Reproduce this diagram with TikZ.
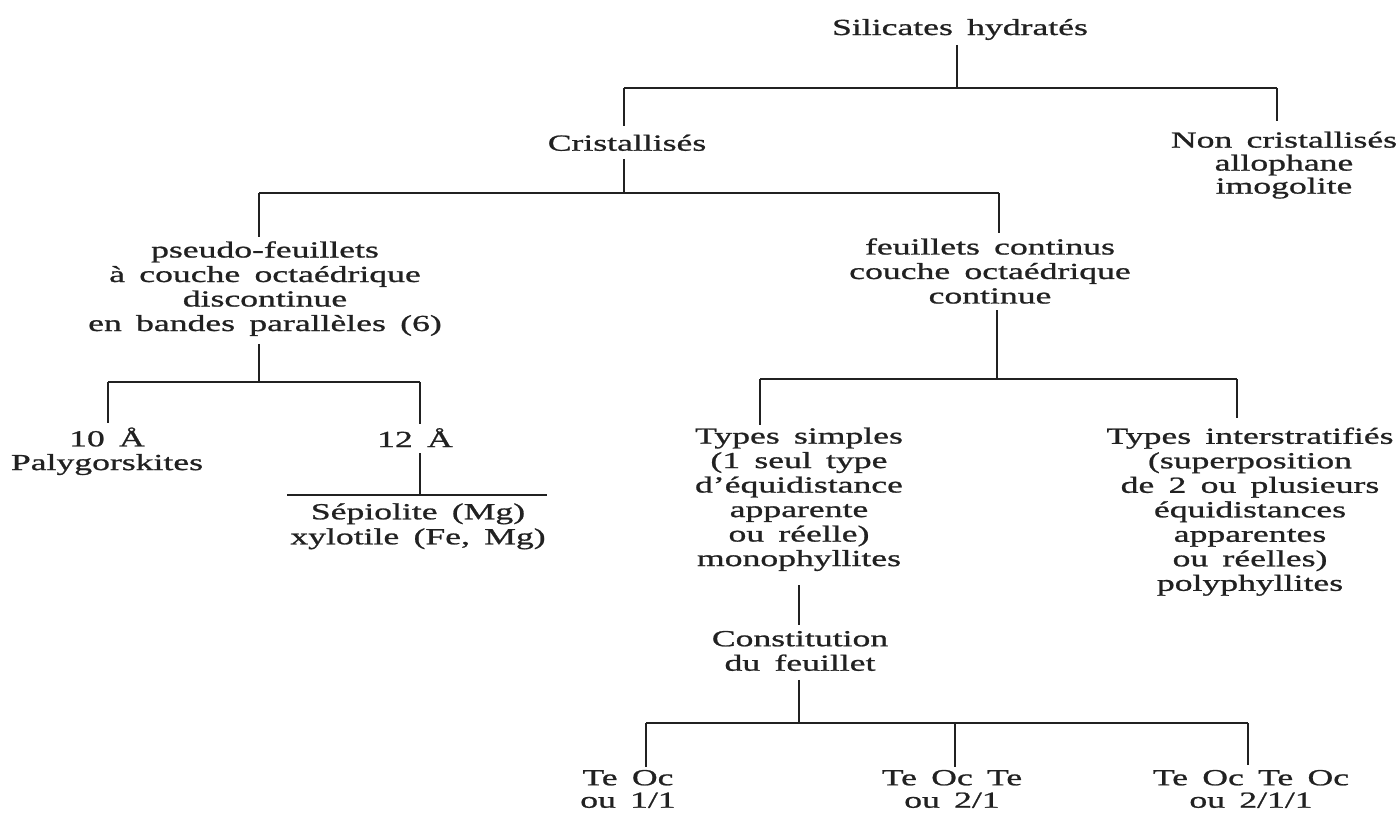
\documentclass[tikz,border=0pt]{standalone}
\usepackage{fontspec}
\setmainfont{Liberation Serif}[FakeStretch=1.55,WordSpace=1.6,FakeBold=1]
\definecolor{ink}{gray}{0.13}
\begin{document}
\begin{tikzpicture}[x=1pt,y=-1pt,
  lbl/.style={align=center, inner sep=0pt, outer sep=0pt, text=ink,
    font=\fontsize{23}{24.5}\selectfont},
  link/.style={line width=2.2pt, draw=ink},
  gapa/.style={shorten <=#1},
  gapb/.style={shorten >=#1}]
\useasboundingbox (0,0) rectangle (1399,814);

% nodes
\node[lbl, anchor=base] (top) at (960,35) {Silicates hydratés};
\node[lbl, anchor=base] (cri) at (627,150.7) {Cristallisés};
\node[lbl, anchor=north, font=\fontsize{23}{23}\selectfont] (ncr) at (1284,131.6) {Non cristallisés\\allophane\\imogolite};
\node[lbl, anchor=north] (pse) at (265,241.3) {pseudo-feuillets\\à couche octaédrique\\discontinue\\en bandes parallèles (6)};
\node[lbl, anchor=north] (feu) at (990,238.3) {feuillets continus\\couche octaédrique\\continue};
\node[lbl, anchor=north, font=\fontsize{23}{23.7}\selectfont] (ten) at (107,427.5) {10 Å\\Palygorskites};
\node[lbl, anchor=base] (twe) at (415,447) {12 Å};
\node[lbl, anchor=north, font=\fontsize{23}{25}\selectfont] (sep) at (418,503.3) {Sépiolite (Mg)\\xylotile (Fe, Mg)};
\node[lbl, anchor=north] (simp) at (799,427.6) {Types simples\\(1 seul type\\d'équidistance\\apparente\\ou réelle)\\monophyllites};
\node[lbl, anchor=north] (inter) at (1250,427.6) {Types interstratifiés\\(superposition\\de 2 ou plusieurs\\équidistances\\apparentes\\ou réelles)\\polyphyllites};
\node[lbl, anchor=north] (const) at (800,631) {Constitution\\du feuillet};
\node[lbl, anchor=north, font=\fontsize{23}{22.5}\selectfont] (t1) at (628,770) {Te Oc\\ou 1/1};
\node[lbl, anchor=north, font=\fontsize{23}{22.5}\selectfont] (t2) at (952,770) {Te Oc Te\\ou 2/1};
\node[lbl, anchor=north, font=\fontsize{23}{22.5}\selectfont] (t3) at (1251,770) {Te Oc Te Oc\\ou 2/1/1};

% junctions
\coordinate (j0) at (957,88);  \coordinate (j0l) at (624,88);  \coordinate (j0r) at (1277,88);
\coordinate (j1) at (624,193); \coordinate (j1l) at (259,193); \coordinate (j1r) at (999,193);
\coordinate (j2) at (259,382); \coordinate (j2l) at (108,382); \coordinate (j2r) at (420,382);
\coordinate (j3) at (997,379); \coordinate (j3l) at (760,379); \coordinate (j3r) at (1237,379);
\coordinate (j4) at (420,495); \coordinate (j4l) at (287,495); \coordinate (j4r) at (547,495);
\coordinate (j5) at (799,723); \coordinate (j5l) at (646,723); \coordinate (j5m) at (955,723); \coordinate (j5r) at (1248,723);

% level 1
\draw[link, gapa=5] (top.south -| j0) -- (j0);
\draw[link] (j0l) -- (j0r);
\draw[link, gapb=9] (j0l) -- (cri.north -| j0l);
\draw[link, gapb=11] (j0r) -- (ncr.north -| j0r);
% level 2
\draw[link, gapa=8] (cri.south -| j1) -- (j1);
\draw[link] (j1l) -- (j1r);
\draw[link, gapb=4.3] (j1l) -- (pse.north -| j1l);
\draw[link, gapb=5.3] (j1r) -- (feu.north -| j1r);
% pseudo-feuillets
\draw[link, gapa=8] (pse.south -| j2) -- (j2);
\draw[link] (j2l) -- (j2r);
\draw[link, gapb=4.5] (j2l) -- (ten.north -| j2l);
\draw[link, gapb=4.5] (j2r) -- (twe.north -| j2r);
\draw[link, gapa=6] (twe.south -| j4) -- (j4);
\draw[link] (j4l) -- (j4r);
% feuillets continus
\draw[link, gapa=6.7] (feu.south -| j3) -- (j3);
\draw[link] (j3l) -- (j3r);
\draw[link, gapb=2.6] (j3l) -- (simp.north -| j3l);
\draw[link, gapb=9.6] (j3r) -- (inter.north -| j3r);
\draw[link, gapa=14, gapb=6] (simp.south -| j5) -- (const.north -| j5);
\draw[link, gapa=9] (const.south -| j5) -- (j5);
\draw[link] (j5l) -- (j5r);
\draw[link, gapb=3] (j5l) -- (t1.north -| j5l);
\draw[link, gapb=3] (j5m) -- (t2.north -| j5m);
\draw[link, gapb=5] (j5r) -- (t3.north -| j5r);
\end{tikzpicture}
\end{document}
